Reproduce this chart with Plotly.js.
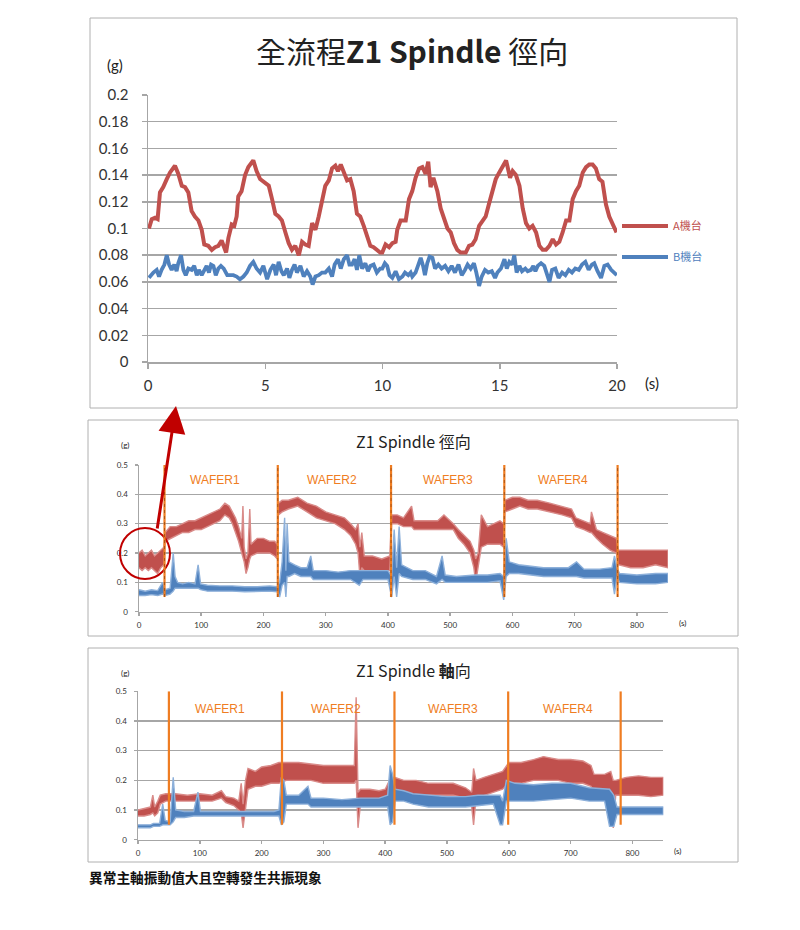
<!DOCTYPE html>
<html>
<head>
<meta charset="utf-8">
<script src="https://cdn.plot.ly/plotly-3.0.1.min.js"></script>
<style>
  body { margin: 0; background: #fff; }
  #chart { width: 800px; height: 930px; }
</style>
</head>
<body>
<div id="chart"></div>
<script>
// 全流程 Z1 Spindle 徑向 (0-20 s)
const topTimeA = [0.04, 0.16, 0.3, 0.41, 0.51, 0.65, 0.8, 0.94, 1.15, 1.29,
  1.44, 1.58, 1.72, 1.86, 2.0, 2.15, 2.29, 2.4, 2.57, 2.72,
  2.86, 3.0, 3.14, 3.33, 3.43, 3.57, 3.68, 3.78, 3.85, 3.99,
  4.14, 4.28, 4.49, 4.63, 4.78, 4.92, 5.15, 5.29, 5.43, 5.57,
  5.71, 5.86, 6.0, 6.14, 6.28, 6.43, 6.57, 6.71, 6.85, 7.0,
  7.14, 7.28, 7.42, 7.56, 7.71, 7.85, 7.99, 8.1, 8.22, 8.35,
  8.49, 8.63, 8.77, 8.91, 9.05, 9.2, 9.34, 9.48, 9.62, 9.76,
  9.9, 9.99, 10.13, 10.28, 10.42, 10.56, 10.63, 10.77, 10.99, 11.13,
  11.27, 11.41, 11.56, 11.7, 11.84, 11.95, 12.05, 12.17, 12.34, 12.48,
  12.62, 12.77, 12.91, 13.05, 13.19, 13.33, 13.55, 13.69, 13.83, 13.97,
  14.12, 14.26, 14.4, 14.55, 14.69, 14.83, 14.98, 15.12, 15.27, 15.44,
  15.55, 15.69, 15.84, 15.98, 16.12, 16.26, 16.4, 16.55, 16.69, 16.83,
  16.97, 17.12, 17.26, 17.4, 17.54, 17.68, 17.83, 17.97, 18.11, 18.25,
  18.39, 18.54, 18.68, 18.82, 18.96, 19.1, 19.24, 19.38, 19.53, 19.67,
  19.81, 19.88, 19.98]
const topValA = [0.100, 0.107, 0.108, 0.107, 0.127, 0.131, 0.137, 0.142, 0.147, 0.141,
  0.132, 0.131, 0.127, 0.113, 0.109, 0.106, 0.099, 0.088, 0.087, 0.084,
  0.086, 0.087, 0.091, 0.082, 0.093, 0.103, 0.102, 0.109, 0.124, 0.128,
  0.140, 0.146, 0.151, 0.143, 0.137, 0.135, 0.132, 0.122, 0.111, 0.109,
  0.106, 0.097, 0.089, 0.084, 0.087, 0.080, 0.090, 0.088, 0.087, 0.104,
  0.099, 0.109, 0.119, 0.132, 0.136, 0.145, 0.147, 0.143, 0.148, 0.142,
  0.136, 0.137, 0.128, 0.111, 0.109, 0.102, 0.094, 0.087, 0.086, 0.084,
  0.082, 0.082, 0.088, 0.086, 0.089, 0.090, 0.099, 0.106, 0.106, 0.122,
  0.128, 0.138, 0.145, 0.146, 0.141, 0.150, 0.131, 0.138, 0.128, 0.115,
  0.107, 0.100, 0.097, 0.089, 0.084, 0.082, 0.082, 0.087, 0.088, 0.092,
  0.102, 0.106, 0.109, 0.119, 0.128, 0.137, 0.142, 0.146, 0.151, 0.138,
  0.143, 0.140, 0.132, 0.115, 0.104, 0.100, 0.102, 0.097, 0.087, 0.084,
  0.084, 0.087, 0.092, 0.088, 0.090, 0.097, 0.106, 0.106, 0.122, 0.128,
  0.132, 0.142, 0.146, 0.148, 0.148, 0.145, 0.137, 0.135, 0.118, 0.109,
  0.104, 0.102, 0.097]
const topTimeB = [0.04, 0.13, 0.23, 0.37, 0.47, 0.58, 0.7, 0.8, 0.9, 1.01,
  1.12, 1.22, 1.29, 1.41, 1.51, 1.61, 1.72, 1.86, 1.97, 2.08,
  2.17, 2.29, 2.4, 2.5, 2.6, 2.69, 2.79, 2.89, 3.0, 3.11,
  3.23, 3.38, 3.5, 3.64, 3.78, 3.92, 4.07, 4.21, 4.35, 4.49,
  4.63, 4.78, 4.92, 5.08, 5.22, 5.36, 5.46, 5.57, 5.69, 5.79,
  5.93, 6.03, 6.14, 6.25, 6.35, 6.5, 6.64, 6.78, 6.92, 7.02,
  7.14, 7.28, 7.42, 7.56, 7.71, 7.85, 7.96, 8.1, 8.22, 8.35,
  8.49, 8.59, 8.7, 8.81, 8.91, 9.01, 9.13, 9.27, 9.38, 9.48,
  9.62, 9.76, 9.9, 9.99, 10.1, 10.2, 10.3, 10.42, 10.56, 10.7,
  10.85, 10.96, 11.1, 11.2, 11.27, 11.41, 11.53, 11.63, 11.73, 11.81,
  11.91, 12.01, 12.13, 12.24, 12.38, 12.52, 12.67, 12.81, 12.95, 13.09,
  13.24, 13.38, 13.52, 13.63, 13.76, 13.9, 14.0, 14.12, 14.23, 14.37,
  14.51, 14.66, 14.8, 14.9, 15.05, 15.2, 15.3, 15.41, 15.53, 15.62,
  15.72, 15.84, 15.95, 16.09, 16.19, 16.33, 16.43, 16.52, 16.62, 16.76,
  16.9, 17.0, 17.12, 17.23, 17.37, 17.51, 17.66, 17.8, 17.94, 18.08,
  18.22, 18.37, 18.51, 18.65, 18.79, 18.93, 19.03, 19.17, 19.32, 19.46,
  19.6, 19.75, 19.9, 19.99]
const topValB = [0.063, 0.065, 0.067, 0.069, 0.064, 0.069, 0.073, 0.080, 0.073, 0.069,
  0.073, 0.068, 0.074, 0.080, 0.069, 0.065, 0.070, 0.069, 0.072, 0.065,
  0.069, 0.065, 0.069, 0.072, 0.067, 0.073, 0.072, 0.065, 0.070, 0.072,
  0.070, 0.065, 0.065, 0.065, 0.064, 0.062, 0.064, 0.067, 0.072, 0.075,
  0.070, 0.067, 0.072, 0.062, 0.069, 0.073, 0.065, 0.075, 0.068, 0.065,
  0.070, 0.063, 0.069, 0.073, 0.067, 0.072, 0.064, 0.068, 0.064, 0.058,
  0.064, 0.065, 0.067, 0.067, 0.070, 0.064, 0.073, 0.077, 0.070, 0.077,
  0.080, 0.073, 0.073, 0.077, 0.069, 0.080, 0.070, 0.074, 0.068, 0.072,
  0.073, 0.067, 0.070, 0.070, 0.074, 0.072, 0.065, 0.063, 0.068, 0.062,
  0.064, 0.067, 0.065, 0.067, 0.064, 0.067, 0.073, 0.078, 0.072, 0.065,
  0.074, 0.079, 0.078, 0.070, 0.073, 0.070, 0.072, 0.068, 0.072, 0.067,
  0.073, 0.065, 0.069, 0.073, 0.070, 0.074, 0.067, 0.057, 0.064, 0.069,
  0.067, 0.068, 0.063, 0.067, 0.070, 0.077, 0.070, 0.075, 0.073, 0.080,
  0.067, 0.072, 0.068, 0.070, 0.068, 0.069, 0.072, 0.068, 0.072, 0.074,
  0.072, 0.067, 0.060, 0.069, 0.070, 0.063, 0.067, 0.065, 0.069, 0.067,
  0.070, 0.069, 0.073, 0.075, 0.069, 0.073, 0.074, 0.068, 0.063, 0.072,
  0.073, 0.069, 0.067, 0.065]

// Z1 Spindle 徑向 (whole run): noise band low/high
const radTimeA = [0, 5, 10, 15, 20, 25, 30, 35, 40,
  42, 50, 60, 70, 80, 90, 100, 110, 120, 130,
  138, 145, 150, 155, 160, 165, 167, 169, 172, 175,
  178, 180, 190, 200, 210, 218, 222, 224, 230, 240,
  255, 270, 285, 300, 315, 330, 340, 348, 352, 355,
  358, 362, 375, 390, 403, 406, 415, 425, 438, 442,
  460, 480, 490, 505, 513, 522, 532, 538, 541, 545,
  550, 560, 570, 580, 586, 588, 600, 612, 625, 640,
  660, 680, 695, 702, 715, 725, 727, 735, 745, 757,
  767, 770, 790, 810, 830, 850]
const radLowA = [0.15, 0.14, 0.15, 0.14, 0.15, 0.14, 0.13, 0.15, 0.16,
  0.24, 0.25, 0.26, 0.27, 0.27, 0.28, 0.28, 0.29, 0.30, 0.31,
  0.33, 0.32, 0.30, 0.27, 0.24, 0.20, 0.19, 0.17, 0.13, 0.15,
  0.18, 0.19, 0.20, 0.20, 0.20, 0.19, 0.18, 0.33, 0.34, 0.35,
  0.36, 0.34, 0.32, 0.31, 0.30, 0.28, 0.26, 0.23, 0.20, 0.12,
  0.15, 0.14, 0.14, 0.14, 0.14, 0.30, 0.30, 0.29, 0.29, 0.28,
  0.28, 0.28, 0.28, 0.28, 0.25, 0.23, 0.20, 0.15, 0.10, 0.15,
  0.22, 0.23, 0.23, 0.23, 0.22, 0.34, 0.35, 0.36, 0.35, 0.35,
  0.34, 0.33, 0.32, 0.29, 0.28, 0.27, 0.27, 0.25, 0.23, 0.21,
  0.20, 0.16, 0.15, 0.15, 0.16, 0.15]
const radHighA = [0.20, 0.21, 0.19, 0.20, 0.21, 0.19, 0.20, 0.21, 0.22,
  0.27, 0.29, 0.29, 0.30, 0.31, 0.31, 0.32, 0.33, 0.34, 0.35,
  0.37, 0.36, 0.34, 0.32, 0.29, 0.25, 0.36, 0.22, 0.18, 0.20,
  0.35, 0.23, 0.25, 0.25, 0.24, 0.24, 0.23, 0.37, 0.38, 0.38,
  0.39, 0.37, 0.36, 0.34, 0.33, 0.32, 0.30, 0.28, 0.30, 0.22,
  0.27, 0.19, 0.19, 0.18, 0.19, 0.33, 0.33, 0.32, 0.36, 0.31,
  0.31, 0.31, 0.33, 0.30, 0.28, 0.26, 0.24, 0.21, 0.18, 0.20,
  0.33, 0.29, 0.30, 0.31, 0.30, 0.38, 0.39, 0.39, 0.38, 0.38,
  0.37, 0.36, 0.35, 0.32, 0.31, 0.30, 0.34, 0.28, 0.27, 0.26,
  0.25, 0.21, 0.21, 0.21, 0.21, 0.21]
const radTimeB = [0, 10, 20, 30, 38, 42, 50, 55, 58, 62,
  70, 80, 90, 95, 99, 110, 130, 150, 170, 190,
  210, 222, 226, 230, 234, 236, 238, 241, 250, 260,
  270, 276, 280, 300, 320, 340, 354, 360, 380, 400,
  406, 410, 414, 418, 422, 440, 460, 478, 487, 492,
  510, 540, 560, 580, 586, 590, 595, 610, 630, 650,
  670, 690, 703, 715, 740, 760, 764, 768, 772, 800,
  830, 850]
const radLowB = [0.055, 0.055, 0.058, 0.055, 0.06, 0.055, 0.06, 0.07, 0.08, 0.08,
  0.08, 0.08, 0.08, 0.08, 0.075, 0.07, 0.07, 0.07, 0.068, 0.068,
  0.07, 0.068, 0.05, 0.09, 0.10, 0.05, 0.12, 0.12, 0.13, 0.12,
  0.12, 0.12, 0.11, 0.11, 0.11, 0.11, 0.09, 0.11, 0.11, 0.11,
  0.05, 0.12, 0.05, 0.13, 0.12, 0.11, 0.11, 0.095, 0.11, 0.10,
  0.10, 0.10, 0.10, 0.105, 0.04, 0.12, 0.13, 0.13, 0.125, 0.12,
  0.12, 0.12, 0.12, 0.115, 0.115, 0.115, 0.06, 0.12, 0.10, 0.095,
  0.095, 0.10]
const radHighB = [0.075, 0.07, 0.075, 0.072, 0.10, 0.075, 0.08, 0.20, 0.12, 0.10,
  0.095, 0.10, 0.095, 0.16, 0.095, 0.09, 0.088, 0.088, 0.085, 0.085,
  0.088, 0.085, 0.10, 0.17, 0.32, 0.14, 0.30, 0.17, 0.16, 0.15,
  0.15, 0.19, 0.14, 0.14, 0.135, 0.14, 0.14, 0.14, 0.14, 0.14,
  0.12, 0.28, 0.15, 0.29, 0.16, 0.14, 0.14, 0.12, 0.19, 0.125,
  0.12, 0.125, 0.125, 0.13, 0.12, 0.25, 0.17, 0.16, 0.155, 0.15,
  0.15, 0.15, 0.17, 0.145, 0.145, 0.15, 0.19, 0.15, 0.13, 0.125,
  0.13, 0.13]

// Z1 Spindle 軸向 (whole run)
const axTimeA = [0, 10, 20, 24, 27, 32, 36, 45, 60, 80,
  100, 120, 135, 142, 155, 163, 167, 170, 174, 178,
  190, 200, 215, 228, 240, 260, 280, 300, 320, 340,
  350, 353, 356, 360, 375, 390, 400, 407, 415, 430,
  450, 470, 490, 510, 530, 540, 543, 547, 560, 575,
  590, 600, 620, 640, 656, 680, 700, 720, 733, 738,
  755, 765, 769, 773, 790, 810, 830, 850]
const axLowA = [0.08, 0.08, 0.085, 0.09, 0.08, 0.09, 0.12, 0.13, 0.13, 0.13,
  0.13, 0.13, 0.14, 0.125, 0.115, 0.10, 0.09, 0.04, 0.10, 0.17,
  0.18, 0.18, 0.19, 0.19, 0.20, 0.20, 0.20, 0.19, 0.19, 0.19,
  0.19, 0.20, 0.04, 0.12, 0.13, 0.13, 0.13, 0.16, 0.17, 0.16,
  0.15, 0.15, 0.15, 0.15, 0.14, 0.11, 0.05, 0.14, 0.15, 0.16,
  0.17, 0.19, 0.19, 0.20, 0.20, 0.20, 0.19, 0.19, 0.18, 0.16,
  0.16, 0.15, 0.04, 0.15, 0.15, 0.15, 0.145, 0.15]
const axHighA = [0.10, 0.105, 0.11, 0.15, 0.11, 0.13, 0.15, 0.155, 0.155, 0.15,
  0.155, 0.15, 0.165, 0.145, 0.14, 0.13, 0.19, 0.12, 0.20, 0.24,
  0.23, 0.245, 0.25, 0.26, 0.26, 0.26, 0.255, 0.25, 0.25, 0.25,
  0.25, 0.48, 0.16, 0.17, 0.17, 0.165, 0.17, 0.20, 0.21, 0.20,
  0.20, 0.19, 0.19, 0.19, 0.175, 0.16, 0.24, 0.20, 0.21, 0.22,
  0.23, 0.26, 0.26, 0.27, 0.28, 0.27, 0.27, 0.265, 0.25, 0.22,
  0.22, 0.23, 0.20, 0.20, 0.21, 0.215, 0.21, 0.21]
const axTimeB = [0, 20, 25, 35, 40, 44, 52, 57, 61, 75,
  90, 97, 101, 130, 160, 190, 220, 228, 232, 236,
  240, 260, 275, 280, 300, 330, 360, 390, 404, 408,
  412, 416, 430, 445, 470, 500, 530, 550, 575, 586,
  590, 596, 610, 640, 670, 700, 730, 755, 763, 770,
  775, 800, 830, 850]
const axLowB = [0.04, 0.04, 0.045, 0.045, 0.05, 0.05, 0.05, 0.06, 0.075, 0.075,
  0.08, 0.08, 0.08, 0.08, 0.08, 0.08, 0.08, 0.08, 0.05, 0.06,
  0.12, 0.12, 0.12, 0.11, 0.11, 0.11, 0.11, 0.11, 0.11, 0.05,
  0.06, 0.13, 0.13, 0.12, 0.11, 0.11, 0.11, 0.115, 0.12, 0.05,
  0.05, 0.13, 0.13, 0.13, 0.135, 0.14, 0.13, 0.13, 0.045, 0.045,
  0.085, 0.085, 0.085, 0.085]
const axHighB = [0.05, 0.05, 0.055, 0.055, 0.12, 0.065, 0.06, 0.21, 0.10, 0.095,
  0.095, 0.16, 0.095, 0.095, 0.095, 0.095, 0.095, 0.10, 0.21, 0.20,
  0.15, 0.15, 0.18, 0.14, 0.14, 0.135, 0.14, 0.14, 0.15, 0.25,
  0.22, 0.17, 0.165, 0.155, 0.15, 0.145, 0.145, 0.15, 0.15, 0.15,
  0.13, 0.20, 0.19, 0.185, 0.19, 0.19, 0.175, 0.17, 0.17, 0.15,
  0.11, 0.11, 0.11, 0.11]

const waferNames = ['WAFER1', 'WAFER2', 'WAFER3', 'WAFER4']
const radWaferEdges = [41, 223, 405, 587, 769]
const radWaferLabelX = [122, 310, 496, 682]
const axWaferEdges = [50, 233, 415, 599, 781]
const axWaferLabelX = [132, 321, 509, 696]

const RED = '#C0504D'
const BLUE = '#4F81BD'
const RED_EDGE = '#D98B89'
const BLUE_EDGE = '#8DB0DA'
const ORANGE = '#EF7D22'
const GRID = '#a6a6a6'
const NUM_FONT = 'Lato, "Open Sans", sans-serif'
const CJK_FONT = '"Noto Sans CJK TC", "Noto Sans", sans-serif'

// pixel -> paper helpers (figure is 800 x 930 with no margins)
const px = x => x / 800
const py = y => 1 - y / 930

// closed polygon between low and high envelope
function band(t, lo, hi, color, edge, xa, ya) {
  return {
    x: t.concat(t.slice().reverse()),
    y: hi.concat(lo.slice().reverse()),
    mode: 'lines',
    fill: 'toself',
    fillcolor: color,
    line: { color: edge, width: 1.4 },
    xaxis: xa,
    yaxis: ya,
    showlegend: false,
    hoverinfo: 'skip'
  }
}

const traces = [
  {
    x: topTimeA, y: topValA, mode: 'lines', name: 'A機台',
    line: { color: RED, width: 4 }, xaxis: 'x', yaxis: 'y', legend: 'legend'
  },
  {
    x: topTimeB, y: topValB, mode: 'lines', name: 'B機台',
    line: { color: BLUE, width: 3.8 }, xaxis: 'x', yaxis: 'y', legend: 'legend2'
  },
  band(radTimeA, radLowA, radHighA, RED, RED_EDGE, 'x2', 'y2'),
  band(radTimeB, radLowB, radHighB, BLUE, BLUE_EDGE, 'x2', 'y2'),
  band(axTimeA, axLowA, axHighA, RED, RED_EDGE, 'x3', 'y3'),
  band(axTimeB, axLowB, axHighB, BLUE, BLUE_EDGE, 'x3', 'y3')
]

function xAxis(domain, range, dtick, anchor, size, ticklen, standoff) {
  return {
    domain: domain, range: range, dtick: dtick, tick0: 0, anchor: anchor,
    showgrid: false, zeroline: false, showline: true, linecolor: GRID, linewidth: 1.5,
    ticks: 'outside', ticklen: ticklen, tickcolor: GRID, tickwidth: 1.5,
    ticklabelstandoff: standoff,
    tickfont: { family: NUM_FONT, size: size, color: '#333' }, fixedrange: true
  }
}
function yAxis(domain, range, dtick, anchor, size, ticklen, standoff) {
  return {
    domain: domain, range: range, dtick: dtick, tick0: 0, anchor: anchor,
    showgrid: true, gridcolor: GRID, gridwidth: 1.5, zeroline: false,
    showline: true, linecolor: GRID, linewidth: 1.5,
    ticks: 'outside', ticklen: ticklen, tickcolor: GRID, tickwidth: 1.5,
    ticklabelstandoff: standoff,
    tickfont: { family: NUM_FONT, size: size, color: '#333' }, fixedrange: true
  }
}

const shapes = [
  { type: 'rect', xref: 'paper', yref: 'paper', x0: px(90), x1: px(737), y0: py(408), y1: py(18), line: { color: '#b0b0b0', width: 1 } },
  { type: 'rect', xref: 'paper', yref: 'paper', x0: px(88), x1: px(738), y0: py(636), y1: py(420), line: { color: '#b0b0b0', width: 1 } },
  { type: 'rect', xref: 'paper', yref: 'paper', x0: px(88), x1: px(738), y0: py(862), y1: py(648), line: { color: '#b0b0b0', width: 1 } },
  { type: 'circle', xref: 'paper', yref: 'paper', x0: px(120), x1: px(170), y0: py(579), y1: py(528), line: { color: '#C00000', width: 2 } }
]
radWaferEdges.forEach(t => {
  shapes.push({ type: 'line', xref: 'x2', yref: 'y2', x0: t, x1: t, y0: 0.05, y1: 0.5, line: { color: ORANGE, width: 2.2 } })
  shapes.push({ type: 'line', xref: 'x2', yref: 'y2', x0: t, x1: t, y0: 0.05, y1: 0.5, line: { color: '#9a4a10', width: 0.8, dash: 'dot' } })
})
axWaferEdges.forEach(t => {
  shapes.push({ type: 'line', xref: 'x3', yref: 'y3', x0: t, x1: t, y0: 0.05, y1: 0.5, line: { color: ORANGE, width: 2.2 } })
})

function paperText(text, x, y, size, opts) {
  return Object.assign({
    text: text, xref: 'paper', yref: 'paper', x: px(x), y: py(y),
    xanchor: 'center', yanchor: 'middle', showarrow: false,
    font: { family: NUM_FONT, size: size, color: '#222' }
  }, opts || {})
}

const annotations = [
  paperText('全流程<b>Z1 Spindle</b> 徑向', 412, 50, 30, { font: { family: CJK_FONT, size: 30, color: '#222' } }),
  paperText('(g)', 115, 65, 15),
  paperText('(s)', 652, 383, 15),
  paperText('Z1 Spindle 徑向', 413, 441, 16, { font: { family: CJK_FONT, size: 16, color: '#222' } }),
  paperText('(g)', 125, 445, 8),
  paperText('(s)', 682, 623, 8),
  paperText('Z1 Spindle <b>軸</b>向', 413, 670, 16, { font: { family: CJK_FONT, size: 16, color: '#222' } }),
  paperText('(g)', 125, 673, 8),
  paperText('(s)', 677, 851, 8),
  paperText('<b>異常主軸振動值大且空轉發生共振現象</b>', 87, 877, 13.7,
    { xanchor: 'left', font: { family: CJK_FONT, size: 13.7, color: '#111' } }),
  {
    text: '', xref: 'paper', yref: 'paper', x: px(176), y: py(406),
    showarrow: true, arrowhead: 2, arrowsize: 1.8, arrowwidth: 3, arrowcolor: '#C00000',
    ax: -19, ay: 124
  }
]
waferNames.forEach((name, i) => {
  annotations.push({ text: name, xref: 'x2', yref: 'y2', x: radWaferLabelX[i], y: 0.45, showarrow: false,
    font: { family: '"Liberation Sans", Arial, sans-serif', size: 12, color: ORANGE } })
  annotations.push({ text: name, xref: 'x3', yref: 'y3', x: axWaferLabelX[i], y: 0.44, showarrow: false,
    font: { family: '"Liberation Sans", Arial, sans-serif', size: 12, color: ORANGE } })
})

const legendBase = {
  xref: 'paper', yref: 'paper', x: px(617), xanchor: 'left', yanchor: 'middle',
  bgcolor: 'rgba(0,0,0,0)', borderwidth: 0, itemwidth: 46, tracegroupgap: 0
}

const layout = {
  width: 800,
  height: 930,
  margin: { l: 0, r: 0, t: 0, b: 0 },
  paper_bgcolor: '#fff',
  plot_bgcolor: 'rgba(0,0,0,0)',
  showlegend: true,
  legend: Object.assign({}, legendBase, { y: py(226), font: { family: CJK_FONT, size: 11, color: RED } }),
  legend2: Object.assign({}, legendBase, { y: py(257), font: { family: CJK_FONT, size: 11, color: BLUE } }),
  xaxis: xAxis([px(148), px(617)], [0, 20], 5, 'y', 15, 5, 4),
  yaxis: yAxis([py(362), py(95)], [0, 0.2], 0.02, 'x', 15, 5, 10),
  xaxis2: xAxis([px(139), px(668)], [0, 850], 100, 'y2', 8, 3, 2),
  yaxis2: yAxis([py(611.7), py(465)], [0, 0.5], 0.1, 'x2', 8, 3, 5),
  xaxis3: xAxis([px(138), px(663.3)], [0, 850], 100, 'y3', 8, 3, 2),
  yaxis3: yAxis([py(839.7), py(691.3)], [0, 0.5], 0.1, 'x3', 8, 3, 5),
  shapes: shapes,
  annotations: annotations
}

Plotly.newPlot('chart', traces, layout, { staticPlot: true, displayModeBar: false })
</script>
</body>
</html>
